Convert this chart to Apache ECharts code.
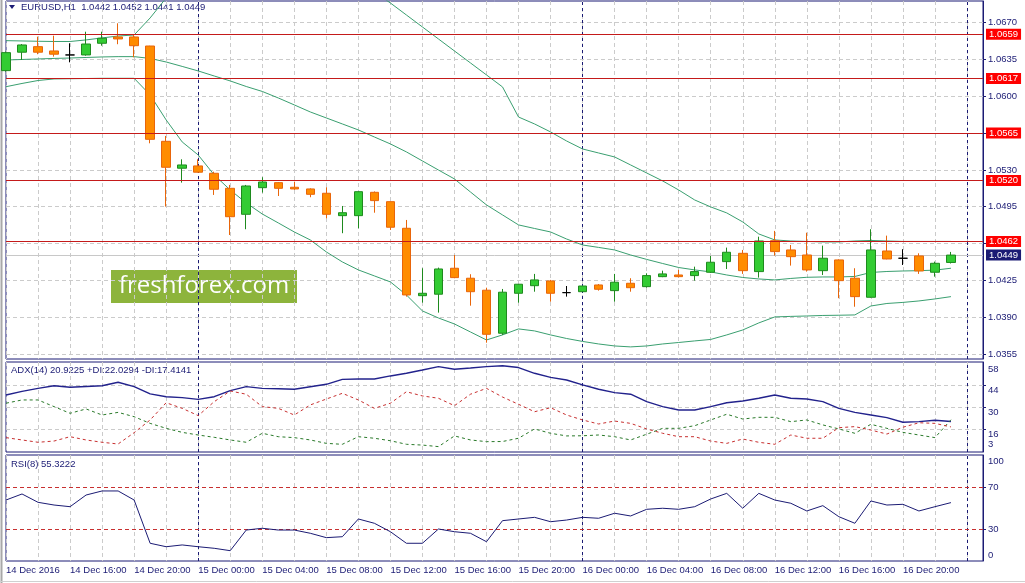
<!DOCTYPE html>
<html>
<head>
<meta charset="utf-8">
<script src="https://cdn.jsdelivr.net/npm/echarts@6/dist/echarts.min.js"></script>
<style>html,body{margin:0;padding:0;background:#fff}#chart{width:1025px;height:583px}</style>
</head>
<body>
<div id="chart"></div>
<script>
// hourly bars, 14 Dec 12:00 .. 17 Dec 01:00 (last two are empty slots on the right)
var hours = [];
for (var i = 0; i < 62; i++) {
  var t = 12 + i;
  hours.push((14 + Math.floor(t / 24)) + ' Dec ' + ('0' + (t % 24)).slice(-2) + ':00');
}
var tickLabels = ['14 Dec 2016', '14 Dec 16:00', '14 Dec 20:00', '15 Dec 00:00', '15 Dec 04:00',
  '15 Dec 08:00', '15 Dec 12:00', '15 Dec 16:00', '15 Dec 20:00', '16 Dec 00:00', '16 Dec 04:00',
  '16 Dec 08:00', '16 Dec 12:00', '16 Dec 16:00', '16 Dec 20:00'];
var dayStarts = ['15 Dec 00:00', '16 Dec 00:00', '17 Dec 00:00'];

// [open, close, low, high]
var candles = [
  [1.06244, 1.06415, 1.06235, 1.06425], [1.06419, 1.06488, 1.06345, 1.06497],
  [1.06472, 1.06419, 1.06400, 1.06567], [1.06431, 1.06400, 1.06377, 1.06576],
  [1.06393, 1.06393, 1.06323, 1.06504], [1.06393, 1.06497, 1.06386, 1.06614],
  [1.06504, 1.06552, 1.06481, 1.06614], [1.06564, 1.06545, 1.06495, 1.06694],
  [1.06564, 1.06481, 1.06371, 1.06583], [1.06478, 1.05591, 1.05553, 1.06480],
  [1.05572, 1.05325, 1.04951, 1.05623], [1.05316, 1.05347, 1.05179, 1.05401],
  [1.05338, 1.05278, 1.05275, 1.05401], [1.05268, 1.05116, 1.05062, 1.05283],
  [1.05125, 1.04855, 1.04681, 1.05157], [1.04878, 1.05147, 1.04736, 1.05157],
  [1.05131, 1.05185, 1.05084, 1.05230], [1.05179, 1.05125, 1.05052, 1.05185],
  [1.05135, 1.05119, 1.05110, 1.05188], [1.05119, 1.05068, 1.05040, 1.05125],
  [1.05078, 1.04878, 1.04840, 1.05135], [1.04865, 1.04893, 1.04698, 1.04957],
  [1.04865, 1.05093, 1.04745, 1.05095], [1.05087, 1.05008, 1.04893, 1.05095],
  [1.04998, 1.04755, 1.04729, 1.05000], [1.04745, 1.04111, 1.04095, 1.04824],
  [1.04104, 1.04127, 1.04038, 1.04365], [1.04118, 1.04358, 1.03943, 1.04371],
  [1.04365, 1.04276, 1.04270, 1.04491], [1.04270, 1.04142, 1.04009, 1.04308],
  [1.04156, 1.03737, 1.03657, 1.04180], [1.03747, 1.04137, 1.03731, 1.04168],
  [1.04127, 1.04213, 1.04038, 1.04215], [1.04199, 1.04254, 1.04142, 1.04311],
  [1.04244, 1.04127, 1.04047, 1.04254], [1.04133, 1.04133, 1.04095, 1.04196],
  [1.04142, 1.04196, 1.04138, 1.04200], [1.04206, 1.04165, 1.04152, 1.04215],
  [1.04152, 1.04232, 1.04047, 1.04311], [1.04222, 1.04180, 1.04142, 1.04270],
  [1.04190, 1.04295, 1.04180, 1.04317], [1.04285, 1.04311, 1.04280, 1.04342],
  [1.04301, 1.04285, 1.04279, 1.04349], [1.04295, 1.04333, 1.04247, 1.04380],
  [1.04327, 1.04422, 1.04320, 1.04482], [1.04428, 1.04517, 1.04358, 1.04561],
  [1.04507, 1.04342, 1.04311, 1.04539], [1.04333, 1.04624, 1.04276, 1.04665],
  [1.04627, 1.04523, 1.04485, 1.04720], [1.04539, 1.04475, 1.04390, 1.04586],
  [1.04491, 1.04349, 1.04333, 1.04703], [1.04342, 1.04460, 1.04301, 1.04580],
  [1.04444, 1.04247, 1.04080, 1.04450], [1.04270, 1.04095, 1.03999, 1.04365],
  [1.04089, 1.04539, 1.04085, 1.04736], [1.04529, 1.04453, 1.04450, 1.04675],
  [1.04460, 1.04460, 1.04396, 1.04546], [1.04482, 1.04339, 1.04311, 1.04507],
  [1.04327, 1.04412, 1.04285, 1.04428], [1.0442, 1.0449, 1.0441, 1.0452]
];

// bands
var upperBand = [1.06529, 1.06526, 1.06523, 1.06521, 1.06521, 1.06536, 1.06555, 1.06573, 1.06583, 1.06745,
  1.06935, 1.07049, 1.07144, 1.07220, 1.07277, 1.07306, 1.07315, 1.07306, 1.07287, 1.07258,
  1.07220, 1.07163, 1.07087, 1.06992, 1.06887, 1.06773, 1.06659, 1.06545, 1.06431, 1.06317,
  1.06203, 1.06089, 1.05803, 1.05737, 1.05661, 1.05575, 1.05499, 1.05461, 1.05423, 1.05347,
  1.05271, 1.05195, 1.05109, 1.05014, 1.04948, 1.04891, 1.04805, 1.04691, 1.04634, 1.04624,
  1.04620, 1.04615, 1.04615, 1.04624, 1.04629, 1.04624, 1.04620, 1.04620, 1.04620, 1.04620];
var midBand = [1.06345, 1.06350, 1.06355, 1.06360, 1.06364, 1.06369, 1.06374, 1.06377, 1.06377, 1.06360,
  1.06326, 1.06284, 1.06241, 1.06193, 1.06146, 1.06093, 1.06046, 1.05984, 1.05918, 1.05851,
  1.05794, 1.05737, 1.05680, 1.05613, 1.05547, 1.05471, 1.05385, 1.05299, 1.05214, 1.05090,
  1.04967, 1.04872, 1.04777, 1.04743, 1.04710, 1.04643, 1.04586, 1.04563, 1.04539, 1.04491,
  1.04449, 1.04410, 1.04372, 1.04349, 1.04330, 1.04301, 1.04277, 1.04263, 1.04254, 1.04268,
  1.04279, 1.04282, 1.04282, 1.04287, 1.04325, 1.04334, 1.04339, 1.04342, 1.04347, 1.04365];
var lowerBand = [1.06091, 1.06122, 1.06150, 1.06165, 1.06167, 1.06169, 1.06171, 1.06171, 1.06171, 1.06013,
  1.05775, 1.05566, 1.05442, 1.05252, 1.05109, 1.04986, 1.04881, 1.04796, 1.04710, 1.04634,
  1.04520, 1.04425, 1.04349, 1.04292, 1.04235, 1.04111, 1.03959, 1.03892, 1.03835, 1.03759,
  1.03683, 1.03731, 1.03788, 1.03769, 1.03731, 1.03697, 1.03669, 1.03645, 1.03626, 1.03617,
  1.03626, 1.03645, 1.03659, 1.03674, 1.03688, 1.03731, 1.03778, 1.03845, 1.03902, 1.03907,
  1.03911, 1.03916, 1.03918, 1.03921, 1.04006, 1.04030, 1.04040, 1.04054, 1.04073, 1.04095];

// ADX(14)
var adx = [38.0, 40.3, 42.3, 44.0, 43.0, 43.5, 44.0, 46.2, 43.4, 38.7,
  36.9, 36.3, 35.2, 36.9, 40.8, 43.4, 42.3, 42.0, 41.7, 43.3,
  44.9, 48.1, 48.3, 48.3, 50.3, 52.0, 54.1, 56.3, 54.6, 55.4,
  56.3, 56.9, 55.7, 52.0, 49.4, 47.7, 44.5, 41.7, 39.5, 38.5,
  33.7, 30.5, 28.3, 28.3, 30.5, 33.0, 34.1, 35.9, 38.0, 35.9,
  35.4, 33.7, 29.4, 26.8, 25.1, 23.4, 20.4, 20.8, 21.7, 20.92];
var plusDi = [32.7, 34.8, 34.8, 30.5, 26.2, 29.0, 25.1, 26.8, 24.0, 19.7,
  16.5, 13.9, 12.2, 10.7, 9.0, 7.5, 13.3, 11.1, 10.5, 9.0,
  6.8, 6.2, 11.1, 10.1, 8.5, 6.2, 5.7, 4.7, 11.6, 9.0,
  7.9, 8.0, 10.1, 16.1, 13.3, 11.6, 11.7, 12.2, 11.1, 9.0,
  12.7, 16.5, 16.5, 18.2, 21.9, 25.6, 22.5, 23.6, 23.6, 20.8,
  21.9, 18.7, 16.1, 13.3, 19.1, 16.5, 13.9, 12.2, 10.5, 22.03];
var minusDi = [10.5, 9.0, 7.5, 8.3, 11.1, 9.0, 7.5, 6.4, 13.7, 21.9,
  33.0, 29.4, 24.7, 33.7, 40.6, 38.5, 30.5, 29.4, 25.1, 31.6,
  35.4, 39.1, 34.8, 29.4, 32.7, 40.1, 37.4, 35.9, 31.1, 38.5,
  42.3, 36.7, 32.0, 27.2, 29.8, 25.1, 21.9, 19.3, 21.2, 19.7,
  16.1, 13.3, 11.1, 11.1, 8.3, 6.8, 9.6, 7.5, 6.2, 12.2,
  10.1, 10.1, 16.9, 17.6, 15.4, 12.8, 17.2, 20.1, 19.7, 17.41];

// RSI(8)
var rsi = [57.8, 63.6, 55.6, 53.0, 51.4, 62.6, 66.5, 66.5, 57.8, 16.3,
  13.0, 14.7, 13.0, 11.5, 9.2, 29.0, 30.7, 29.0, 29.0, 25.9,
  21.7, 22.6, 39.6, 35.5, 27.4, 16.3, 16.3, 30.0, 27.4, 25.9,
  17.8, 38.0, 39.6, 41.2, 37.0, 38.6, 41.2, 40.3, 45.1, 42.5,
  48.9, 49.9, 48.9, 51.4, 58.8, 64.2, 49.9, 64.2, 57.8, 54.7,
  47.3, 52.4, 41.8, 35.5, 56.9, 53.0, 53.7, 47.3, 51.4, 55.32];

var priceTicks = [1.0355, 1.0390, 1.0425, 1.0460, 1.0495, 1.0530, 1.0565, 1.0600, 1.0635, 1.0670];
var priceLabels = [1.0355, 1.0390, 1.0425, 1.0495, 1.0530, 1.0600, 1.0635, 1.0670];
var levels = [1.0659, 1.0617, 1.0565, 1.0520, 1.0462];
var bid = 1.0449;
var adxGrid = [44, 30, 16];
var adxLabels = [58, 44, 30, 16];
var adxLowLabel = [3];
var rsiLevels = [70, 30];

var NAVY = '#1b1b74';
var FONT = 'Liberation Sans';
var FS = 9.5;

var chart = echarts.init(document.getElementById('chart'));

function gridBox(top, height) {
  return { left: 6, width: 977, top: top, height: height, show: true,
    borderColor: NAVY, borderWidth: 1, backgroundColor: 'transparent' };
}
function xAx(g, withLabels) {
  return {
    type: 'category', gridIndex: g, data: hours, boundaryGap: false,
    axisLine: { show: false }, axisTick: { show: false },
    axisLabel: withLabels ? {
      interval: 3, align: 'left', margin: 4, color: NAVY, fontSize: FS, fontFamily: FONT,
      formatter: function (v, idx) { return tickLabels[idx / 4] || ''; }
    } : { show: false },
    splitLine: { show: true, interval: 1, lineStyle: { color: '#cbcbcb', type: [4, 3], width: 1 } }
  };
}
function yAx(g, min, max, ticks, labels, valign, fmt, line) {
  return {
    type: 'value', gridIndex: g, position: 'right', min: min, max: max,
    axisLine: { show: line, lineStyle: { color: NAVY, width: 1 } },
    axisTick: ticks ? { show: true, customValues: ticks, length: 3, lineStyle: { color: NAVY } } : { show: false },
    axisLabel: { customValues: labels, color: NAVY, fontSize: FS, fontFamily: FONT, margin: 5,
      verticalAlign: valign, formatter: fmt },
    splitLine: { show: false }
  };
}
function dayLines() {
  return dayStarts.map(function (d) {
    return { xAxis: d, lineStyle: { color: NAVY, type: [3, 3], width: 1 } };
  });
}
function hLines(vals) {
  return vals.map(function (v) {
    return { yAxis: v, lineStyle: { color: '#cbcbcb', type: [4, 3], width: 1 } };
  });
}
function backdrop(xi, yi, data) {
  return { type: 'line', xAxisIndex: xi, yAxisIndex: yi, data: [], silent: true,
    markLine: { silent: true, symbol: ['none', 'none'], z: 1, precision: 6, animation: false,
      label: { show: false }, emphasis: { disabled: true }, data: data } };
}
function line(name, xi, yi, data, color, width, type) {
  return { name: name, type: 'line', xAxisIndex: xi, yAxisIndex: yi, data: data, symbol: 'none',
    silent: true, z: 3, lineStyle: { color: color, width: width, type: type } };
}
var fmt4 = function (v) { return v.toFixed(4); };
var fmt0 = function (v) { return String(v); };
var boxLabel = function (bg) {
  return { show: true, position: 'end', distance: 3, formatter: function (p) { return p.value.toFixed(4); },
    backgroundColor: bg, color: '#fff', padding: [1, 3, 0, 3], fontSize: FS, fontFamily: FONT };
};

var option = {
  animation: false,
  backgroundColor: '#fff',
  grid: [gridBox(1, 358), gridBox(362, 90), gridBox(455, 106)],
  xAxis: [xAx(0, false), xAx(1, false), xAx(2, true)],
  yAxis: [
    yAx(0, 1.03502, 1.06906, priceTicks, priceLabels, 'middle', fmt4, true),
    yAx(1, 1.23, 59.29, adxGrid, adxLabels, 'top', fmt0, true),
    yAx(1, 1.23, 59.29, null, adxLowLabel, 'bottom', fmt0, false),
    yAx(2, -0.7, 101, rsiLevels, rsiLevels, 'middle', fmt0, true),
    yAx(2, -0.7, 101, null, [100], 'top', fmt0, false),
    yAx(2, -0.7, 101, null, [0], 'bottom', fmt0, false)
  ],
  series: [
    backdrop(0, 0, hLines(priceTicks).concat(dayLines())),
    backdrop(1, 1, hLines(adxGrid).concat(dayLines())),
    backdrop(2, 3, dayLines()),
    {
      type: 'line', xAxisIndex: 0, yAxisIndex: 0, data: [], silent: true,
      markLine: { silent: true, symbol: ['none', 'none'], animation: false, z: 2, precision: 6,
        lineStyle: { color: '#c8c8c8', type: 'solid', width: 1 },
        label: boxLabel(NAVY),
        data: [{ yAxis: bid }] }
    },
    line('upper', 0, 0, upperBand, '#3a9f70', 1, 'solid'),
    line('middle', 0, 0, midBand, '#3a9f70', 1, 'solid'),
    line('lower', 0, 0, lowerBand, '#3a9f70', 1, 'solid'),
    {
      type: 'candlestick', xAxisIndex: 0, yAxisIndex: 0, data: candles, barWidth: 9, z: 4, silent: true,
      itemStyle: { color: '#33cc33', color0: '#ff8c00', borderColor: '#1e8a1e', borderColor0: '#e8650a',
        borderColorDoji: '#000', borderWidth: 1 }
    },
    {
      type: 'line', xAxisIndex: 0, yAxisIndex: 0, data: [], silent: true,
      markLine: { silent: true, symbol: ['none', 'none'], animation: false, z: 5, precision: 6,
        lineStyle: { color: '#c41a1a', type: 'solid', width: 1.2 },
        label: boxLabel('#ff0000'),
        data: levels.map(function (v) { return { yAxis: v }; }) }
    },
    line('ADX', 1, 1, adx, '#22228c', 1.4, 'solid'),
    line('+DI', 1, 1, plusDi, '#2a7a2a', 1, [3, 3]),
    line('-DI', 1, 1, minusDi, '#c83030', 1, [3, 3]),
    {
      name: 'RSI', type: 'line', xAxisIndex: 2, yAxisIndex: 3, data: rsi, symbol: 'none', silent: true, z: 3,
      lineStyle: { color: '#1b1b74', width: 1 },
      markLine: { silent: true, symbol: ['none', 'none'], animation: false, z: 2, precision: 6, label: { show: false },
        lineStyle: { color: '#c83030', type: [4, 3], width: 1 },
        data: rsiLevels.map(function (v) { return { yAxis: v }; }) }
    }
  ],
  graphic: [
    { type: 'line', shape: { x1: 1.5, y1: 0, x2: 1.5, y2: 583 }, style: { stroke: '#a8a8a8', lineWidth: 2 } },
    { type: 'line', shape: { x1: 0, y1: 581.5, x2: 1025, y2: 581.5 }, style: { stroke: '#d0d0d0', lineWidth: 1 } },
    { type: 'polygon', shape: { points: [[9, 5], [15, 5], [12, 9]] }, style: { fill: NAVY } },
    { type: 'text', x: 21, y: 7.5, style: { text: 'EURUSD,H1  1.0442 1.0452 1.0441 1.0449', fill: NAVY,
      font: FS + 'px "' + FONT + '"', verticalAlign: 'middle' } },
    { type: 'text', x: 11, y: 370.5, style: { text: 'ADX(14) 20.9225 +DI:22.0294 -DI:17.4141', fill: NAVY,
      font: FS + 'px "' + FONT + '"', verticalAlign: 'middle' } },
    { type: 'text', x: 11, y: 464, style: { text: 'RSI(8) 55.3222', fill: NAVY,
      font: FS + 'px "' + FONT + '"', verticalAlign: 'middle' } },
    { type: 'group', x: 111, y: 270, children: [
      { type: 'rect', shape: { x: 0, y: 0, width: 186, height: 33 }, style: { fill: '#8db43c' } },
      { type: 'text', x: 93, y: 16.5, style: { text: 'freshforex.com', fill: '#fff',
        font: '24px "Open Sans"', align: 'center', verticalAlign: 'middle' } }
    ] }
  ]
};
chart.setOption(option);
</script>
</body>
</html>
